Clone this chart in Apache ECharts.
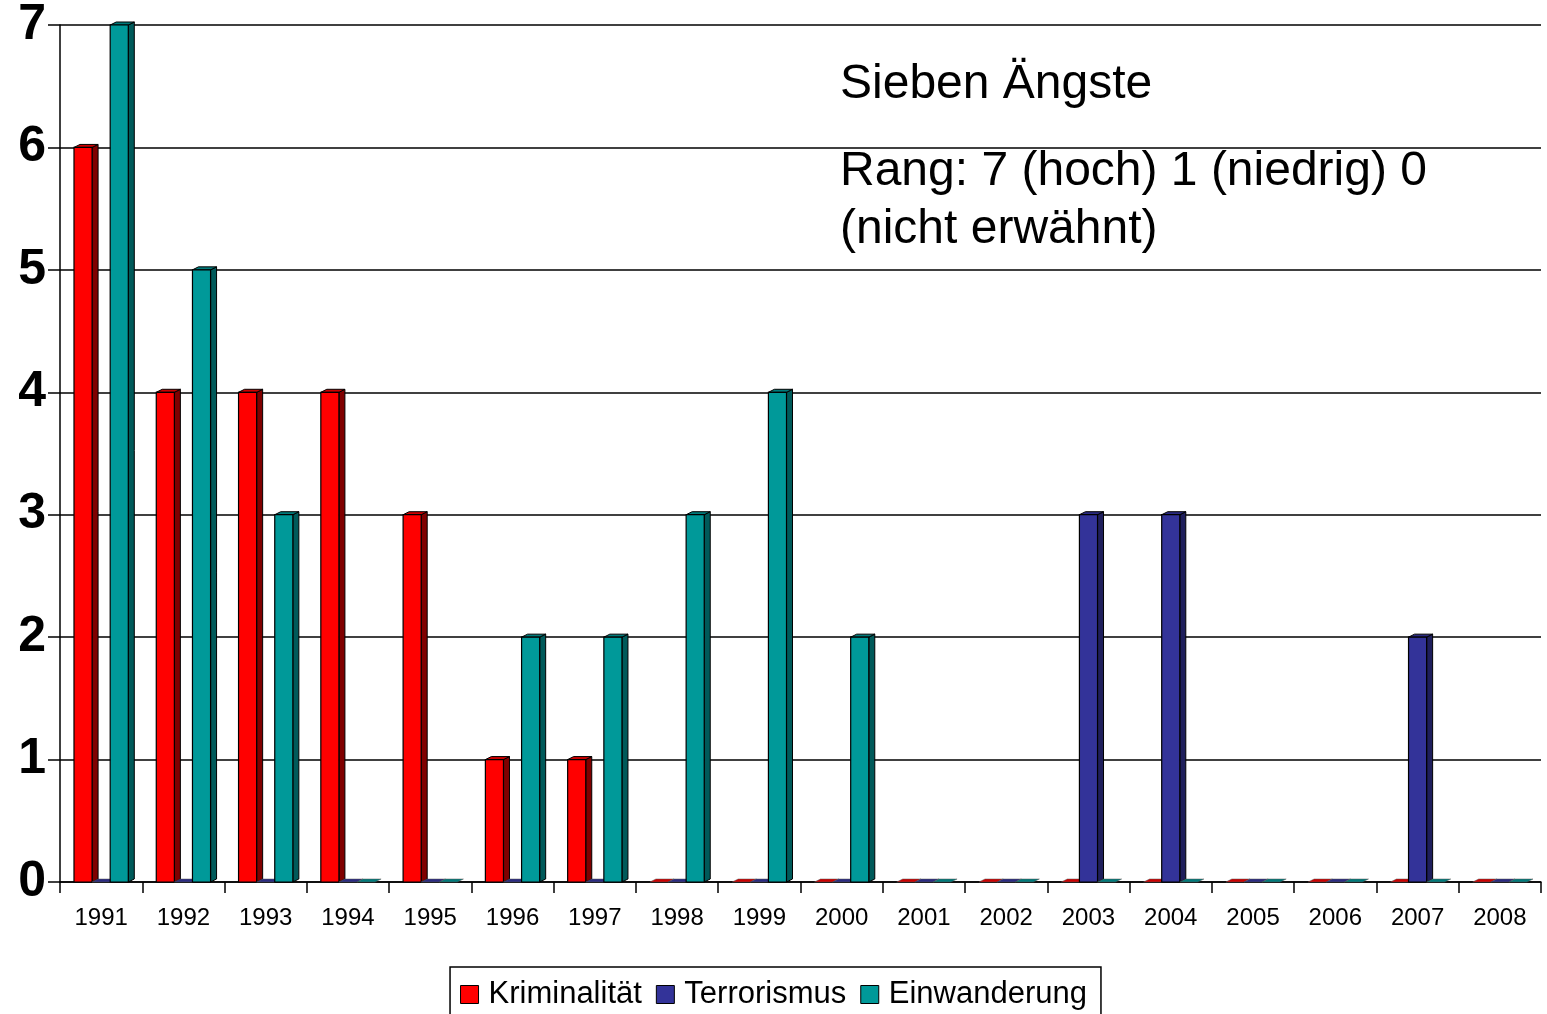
<!DOCTYPE html>
<html><head><meta charset="utf-8">
<script src="https://cdn.jsdelivr.net/npm/echarts@6/dist/echarts.min.js"></script>
<style>html,body{margin:0;padding:0;background:#fff}#c{width:1547px;height:1014px}</style>
</head><body><div id="c"></div>
<script>
const categories = ['1991','1992','1993','1994','1995','1996','1997','1998','1999','2000','2001','2002','2003','2004','2005','2006','2007','2008'];
const kriminalitaet = [6,4,4,4,3,1,1,0,0,0,0,0,0,0,0,0,0,0];
const terrorismus   = [0,0,0,0,0,0,0,0,0,0,0,0,3,3,0,0,2,0];
const einwanderung  = [7,5,3,0,0,2,2,3,4,2,0,0,0,0,0,0,0,0];
const seriesNames = ['Kriminalität','Terrorismus','Einwanderung'];
const yTicks = [0,1,2,3,4,5,6,7];

const FONT = '"Liberation Sans", Arial, sans-serif';
const front = ['#FF0000','#333399','#009999'];
const side  = ['#800000','#1F1F5C','#005A5A'];
const topc  = ['#CC0000','#2A2A80','#007A7A'];

function make3D(sIdx){
  return function(params, api){
    const i = api.value(0), v = api.value(1);
    const c = api.coord([i, v]);
    const b = api.coord([i, 0]);
    const band = api.size([1,0])[0];
    const bw = band*0.22;
    const x0 = c[0] + (sIdx-1.5)*bw;
    const dx = 6, dy = 3;
    const yt = c[1], yb = b[1];
    const children = [];
    if (v > 0) {
      children.push({type:'polygon', shape:{points:[[x0+bw,yt],[x0+bw+dx,yt-dy],[x0+bw+dx,yb-dy],[x0+bw,yb]]},
        style:{fill:side[sIdx], stroke:'#000', lineWidth:1}});
      children.push({type:'polygon', shape:{points:[[x0,yt],[x0+dx,yt-dy],[x0+bw+dx,yt-dy],[x0+bw,yt]]},
        style:{fill:topc[sIdx], stroke:'#000', lineWidth:1}});
      children.push({type:'rect', shape:{x:x0, y:yt, width:bw, height:yb-yt},
        style:{fill:front[sIdx], stroke:'#000', lineWidth:1.2}});
    } else {
      children.push({type:'polygon', shape:{points:[[x0,yb],[x0+dx,yb-dy],[x0+bw+dx,yb-dy],[x0+bw,yb]]},
        style:{fill:topc[sIdx], stroke:'#555', lineWidth:0.5}});
    }
    return {type:'group', children};
  };
}

const allData = [kriminalitaet, terrorismus, einwanderung];
const series = allData.map((arr, s) => ({
  name: seriesNames[s],
  type: 'custom',
  renderItem: make3D(s),
  itemStyle: {color: front[s], borderColor:'#000', borderWidth:1},
  encode: {x:0, y:1},
  data: arr.map((v,i)=>[i,v]),
  z: 3
}));

const chart = echarts.init(document.getElementById('c'));
chart.setOption({
  animation:false,
  grid:{left:60, right:6, top:22, bottom:132},
  xAxis:{
    type:'category', data:categories, boundaryGap:true,
    axisLine:{show:true, lineStyle:{color:'#000', width:1.5}},
    axisTick:{show:true, alignWithLabel:false, length:11, lineStyle:{color:'#000', width:1.5}},
    axisLabel:{color:'#000', fontSize:24, fontFamily:FONT, margin:24}
  },
  yAxis:{
    type:'value', min:yTicks[0], max:yTicks[yTicks.length-1], interval:1,
    axisLine:{show:true, lineStyle:{color:'#000', width:1.5}},
    axisTick:{show:true, length:12, lineStyle:{color:'#000', width:1.5}},
    axisLabel:{color:'#000', fontSize:50, fontWeight:'bold', fontFamily:FONT, margin:14},
    splitLine:{show:true, lineStyle:{color:'#000', width:1.5}}
  },
  legend:{
    data:seriesNames, top:967, left:'center',
    icon:'rect', itemWidth:18, itemHeight:18, itemGap:14,
    borderColor:'#000', borderWidth:1.5, padding:[12,14,20,10],
    textStyle:{color:'#000', fontSize:31, fontFamily:FONT, padding:[0,0,0,5]},
    itemStyle:{borderColor:'#000', borderWidth:1}
  },
  graphic:[
    {type:'text', x:840, y:85, style:{text:'Sieben Ängste', fontSize:48, fontFamily:FONT, fill:'#000', textVerticalAlign:'middle'}},
    {type:'text', x:840, y:172, style:{text:'Rang: 7 (hoch) 1 (niedrig) 0', fontSize:48, fontFamily:FONT, fill:'#000', textVerticalAlign:'middle'}},
    {type:'text', x:840, y:230, style:{text:'(nicht erwähnt)', fontSize:48, fontFamily:FONT, fill:'#000', textVerticalAlign:'middle'}}
  ],
  series
});
</script></body></html>
